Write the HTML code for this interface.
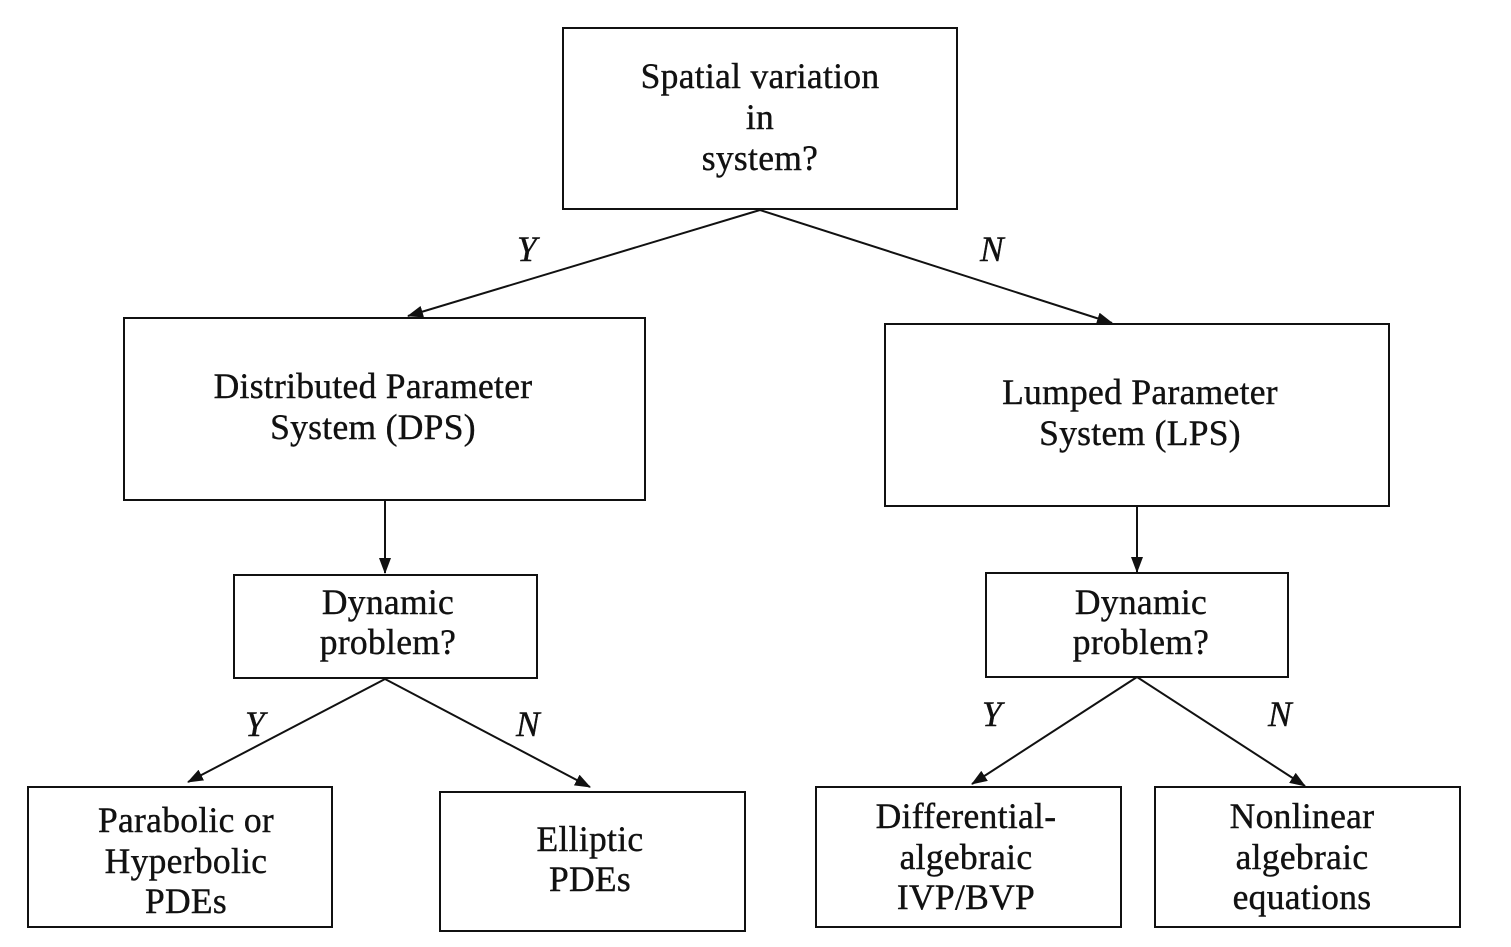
<!DOCTYPE html>
<html><head><meta charset="utf-8"><style>
body{margin:0;background:#fff;}
svg{display:block;}
text{font-family:"Liberation Serif",serif;font-size:35.5px;fill:#111;text-anchor:middle;letter-spacing:0.3px;stroke:#111;stroke-width:0.4px;}
.i{font-style:italic;}
rect{fill:none;stroke:#111;stroke-width:2;}
line{stroke:#111;stroke-width:2;}
</style></head><body>
<svg width="1511" height="947" viewBox="0 0 1511 947" xmlns="http://www.w3.org/2000/svg">
<defs><marker id="a" markerWidth="16" markerHeight="12" refX="15" refY="6" orient="auto" markerUnits="userSpaceOnUse"><path d="M0,0 L16,6 L0,12 Z" fill="#111"/></marker></defs>
<rect x="563" y="28" width="394" height="181"/>
<text x="760" y="88">Spatial variation</text>
<text x="760" y="129">in</text>
<text x="760" y="170">system?</text>

<rect x="124" y="318" width="521" height="182"/>
<text x="373" y="398">Distributed Parameter</text>
<text x="373" y="439">System (DPS)</text>

<rect x="885" y="324" width="504" height="182"/>
<text x="1140" y="404">Lumped Parameter</text>
<text x="1140" y="445">System (LPS)</text>

<rect x="234" y="575" width="303" height="103"/>
<text x="388" y="614">Dynamic</text>
<text x="388" y="654">problem?</text>

<rect x="986" y="573" width="302" height="104"/>
<text x="1141" y="614">Dynamic</text>
<text x="1141" y="654">problem?</text>

<rect x="28" y="787" width="304" height="140"/>
<text x="186" y="832">Parabolic or</text>
<text x="186" y="873">Hyperbolic</text>
<text x="186" y="913">PDEs</text>

<rect x="440" y="792" width="305" height="139"/>
<text x="590" y="851">Elliptic</text>
<text x="590" y="891">PDEs</text>

<rect x="816" y="787" width="305" height="140"/>
<text x="966" y="828">Differential-</text>
<text x="966" y="869">algebraic</text>
<text x="966" y="909">IVP/BVP</text>

<rect x="1155" y="787" width="305" height="140"/>
<text x="1302" y="828">Nonlinear</text>
<text x="1302" y="869">algebraic</text>
<text x="1302" y="909">equations</text>

<line x1="760" y1="210" x2="408" y2="316" marker-end="url(#a)"/>
<line x1="760" y1="210" x2="1112" y2="323" marker-end="url(#a)"/>
<text class="i" x="527" y="261">Y</text>
<text class="i" x="992" y="261">N</text>
<line x1="385" y1="500" x2="385" y2="573" marker-end="url(#a)"/>
<line x1="1137" y1="506" x2="1137" y2="572" marker-end="url(#a)"/>
<line x1="385" y1="679" x2="188" y2="782" marker-end="url(#a)"/>
<line x1="385" y1="679" x2="590" y2="787" marker-end="url(#a)"/>
<text class="i" x="255" y="736">Y</text>
<text class="i" x="528" y="736">N</text>
<line x1="1137" y1="677" x2="972" y2="784" marker-end="url(#a)"/>
<line x1="1137" y1="677" x2="1305" y2="786" marker-end="url(#a)"/>
<text class="i" x="992" y="726">Y</text>
<text class="i" x="1280" y="726">N</text>
</svg>
</body></html>
